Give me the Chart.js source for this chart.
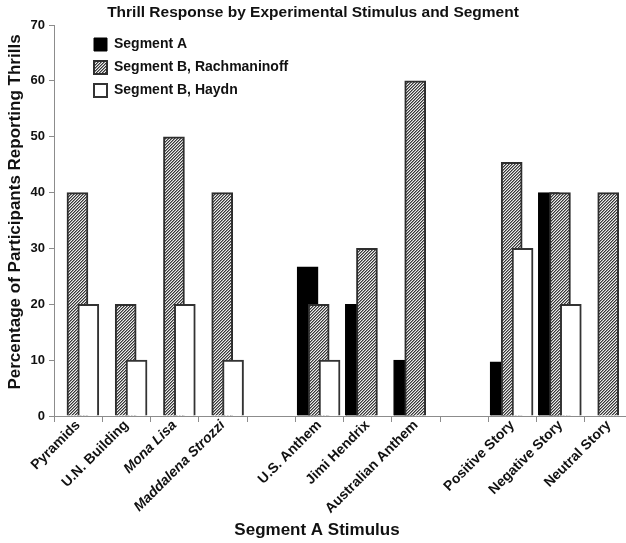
<!DOCTYPE html>
<html>
<head>
<meta charset="utf-8">
<title>Thrill Response by Experimental Stimulus and Segment</title>
<script src="https://cdn.jsdelivr.net/npm/chart.js@4.4.1/dist/chart.umd.min.js"></script>
<style>
  html, body { margin: 0; padding: 0; background: #fff; overflow: hidden; }
  #wrap { width: 640px; height: 543px; }
</style>
</head>
<body>
<div id="wrap"><canvas id="thrillChart" width="640" height="543"></canvas></div>
<script>
const chartTitle = 'Thrill Response by Experimental Stimulus and Segment';
const xTitle = 'Segment A Stimulus';
const yTitle = 'Percentage of Participants Reporting Thrills';

// blank entries are the gaps between the stimulus groups
const stimuli = ['Pyramids', 'U.N. Building', 'Mona Lisa', 'Maddalena Strozzi', '',
    'U.S. Anthem', 'Jimi Hendrix', 'Australian Anthem', '',
    'Positive Story', 'Negative Story', 'Neutral Story'];
const italicStimuli = ['Mona Lisa', 'Maddalena Strozzi'];

const seriesNames = ['Segment A', 'Segment B, Rachmaninoff', 'Segment B, Haydn'];
const segmentA = [null, null, null, null, null, 26.7, 20, 10, null, 9.7, 40, null];
const segmentBRach = [40, 20, 50, 40, null, 20, 30, 60, null, 45.4, 40, 40];
const segmentBHaydn = [20, 10, 20, 10, null, 10, null, null, null, 30, 20, null];

const yTicks = [0, 10, 20, 30, 40, 50, 60, 70];

const FONT = '"Liberation Sans", Arial, Helvetica, sans-serif';
const TEXT = '#111';
const AXIS = '#8c8c8c';

Chart.defaults.font.family = FONT;
Chart.defaults.font.weight = 'bold';
Chart.defaults.color = TEXT;

const canvas = document.getElementById('thrillChart');

// diagonal //// hatch for the Rachmaninoff bars
function makeHatch() {
    const c = document.createElement('canvas');
    c.width = 6;
    c.height = 6;
    const g = c.getContext('2d');
    const shades = ['#383838', '#8e8e8e', '#ededed'];
    for (let y = 0; y < 6; y++) {
        for (let x = 0; x < 6; x++) {
            g.fillStyle = shades[(x + y) % 3];
            g.fillRect(x, y, 1, 1);
        }
    }
    return canvas.getContext('2d').createPattern(c, 'repeat');
}

// bars overlap inside a group (like the excel original), so each series is
// placed a bit left / right of the category centre on a linear x scale
const points = (vals, shift) => vals.map((v, i) => ({ x: i + shift, y: v }));

// legend sits inside the plot, a little in from the axis
// (a vertical legend gets top = 0 from its own update, so set it here)
const legendNudge = {
    id: 'legendNudge',
    afterLayout(chart) {
        chart.legend.left = chart.chartArea.left + 31;
        chart.legend.top = chart.chartArea.top + 3.5;
    }
};

// chart title + axis titles, placed where the original has them
const titles = {
    id: 'titles',
    afterDraw(chart) {
        const ctx = chart.ctx;
        ctx.save();
        ctx.fillStyle = TEXT;
        ctx.textAlign = 'center';
        ctx.textBaseline = 'middle';
        ctx.font = `bold 15.5px ${FONT}`;
        ctx.fillText(chartTitle, 313, 13);
        ctx.font = `bold 17px ${FONT}`;
        ctx.fillText(xTitle, 317, 530);
        ctx.translate(15, 212);
        ctx.rotate(-Math.PI / 2);
        ctx.fillText(yTitle, 0, 0);
        ctx.restore();
    }
};

new Chart(canvas, {
    type: 'bar',
    data: {
        datasets: [{
            label: seriesNames[0],
            data: points(segmentA, -0.244),
            backgroundColor: '#000',
            borderColor: '#000',
            borderWidth: 1,
            order: 3
        }, {
            label: seriesNames[1],
            data: points(segmentBRach, -0.014),
            backgroundColor: makeHatch(),
            borderColor: '#2e2e2e',
            borderWidth: 2,
            order: 2
        }, {
            label: seriesNames[2],
            data: points(segmentBHaydn, 0.211),
            backgroundColor: '#fff',
            borderColor: '#333',
            borderWidth: 2,
            order: 1
        }]
    },
    options: {
        responsive: false,
        animation: false,
        devicePixelRatio: 1,
        layout: { padding: { top: 25, right: 7, left: 0, bottom: 0 } },
        datasets: {
            bar: { grouped: false, barThickness: 21 }
        },
        scales: {
            x: {
                type: 'linear',
                min: -0.5,
                max: stimuli.length - 0.5,
                offset: false,
                afterBuildTicks: (scale) => {
                    scale.ticks = stimuli.map((_, i) => ({ value: i }));
                },
                afterFit: (scale) => { scale.height = 127; },
                grid: { offset: true, drawOnChartArea: false, tickLength: 6, color: AXIS },
                border: { color: AXIS, width: 1 },
                ticks: {
                    autoSkip: false,
                    minRotation: 45,
                    maxRotation: 45,
                    padding: -5,
                    color: TEXT,
                    callback: (value) => stimuli[value],
                    font: (ctx) => ({
                        family: FONT,
                        size: 14,
                        weight: 'bold',
                        style: italicStimuli.includes(stimuli[ctx.index]) ? 'italic' : 'normal'
                    })
                }
            },
            y: {
                min: yTicks[0],
                max: yTicks[yTicks.length - 1],
                afterFit: (scale) => { scale.width = 54; },
                grid: { drawOnChartArea: false, tickLength: 5, color: AXIS },
                border: { color: AXIS, width: 1 },
                ticks: {
                    stepSize: yTicks[1] - yTicks[0],
                    padding: 4,
                    color: TEXT,
                    font: { size: 13, weight: 'bold' }
                },
                title: { display: false }
            }
        },
        plugins: {
            title: { display: false },
            tooltip: { enabled: false },
            legend: {
                position: 'chartArea',
                align: 'start',
                reverse: true,
                labels: {
                    boxWidth: 13,
                    boxHeight: 13,
                    padding: 9,
                    color: TEXT,
                    font: { size: 14, weight: 'bold' }
                }
            }
        }
    },
    plugins: [legendNudge, titles]
});
</script>
</body>
</html>
